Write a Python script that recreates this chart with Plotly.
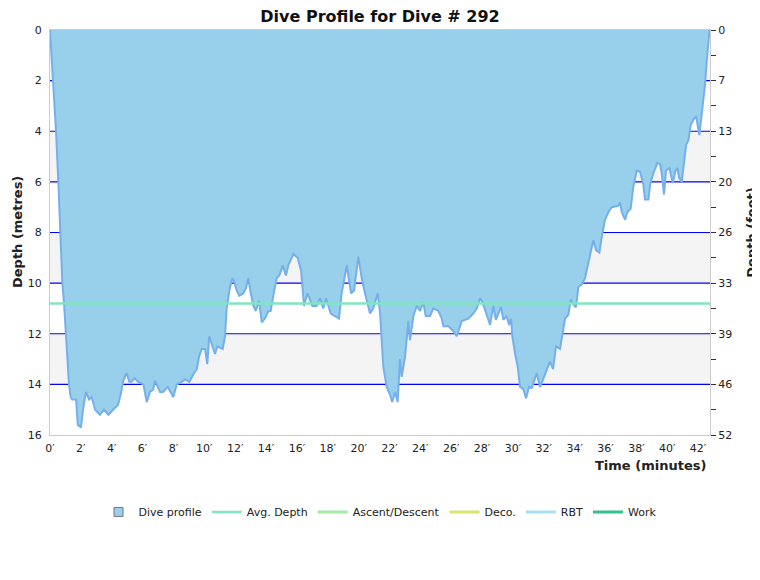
import plotly.graph_objects as go

# dive profile samples (minutes, metres)
time_min = [
    0.00, 0.21, 0.39, 0.54, 0.69, 0.80, 0.91, 1.04, 1.15, 1.23, 1.34, 1.43, 1.69, 1.80,
    2.01, 2.14, 2.33, 2.53, 2.70, 2.92, 3.24, 3.50, 3.78, 4.08, 4.41, 4.58, 4.75, 4.97,
    5.14, 5.29, 5.46, 5.72, 6.05, 6.27, 6.48, 6.69, 6.80, 7.13, 7.34, 7.63, 7.99, 8.21,
    8.54, 8.75, 9.03, 9.29, 9.51, 9.66, 9.83, 10.05, 10.19, 10.32, 10.52, 10.69, 10.84,
    11.19, 11.34, 11.45, 11.62, 11.81, 11.94, 12.10, 12.27, 12.53, 12.70, 12.85, 13.01,
    13.18, 13.33, 13.55, 13.72, 13.93, 14.15, 14.30, 14.47, 14.69, 14.86, 15.08, 15.29,
    15.44, 15.77, 16.05, 16.27, 16.46, 16.68, 17.00, 17.28, 17.50, 17.71, 17.89, 18.19,
    18.73, 18.90, 19.23, 19.51, 19.70, 19.98, 20.20, 20.41, 20.74, 20.95, 21.24, 21.39,
    21.60, 21.82, 22.03, 22.18, 22.36, 22.53, 22.68, 22.79, 23.01, 23.22, 23.33, 23.55,
    23.77, 23.98, 24.19, 24.35, 24.63, 24.84, 25.17, 25.39, 25.49, 25.81, 26.14, 26.36,
    26.68, 27.11, 27.43, 27.65, 27.87, 28.02, 28.30, 28.52, 28.73, 28.89, 29.23, 29.38,
    29.60, 29.75, 29.88, 29.96, 30.14, 30.31, 30.46, 30.68, 30.85, 31.04, 31.22, 31.54,
    31.76, 32.08, 32.40, 32.60, 32.79, 33.05, 33.27, 33.38, 33.59, 33.75, 33.92, 34.09,
    34.24, 34.46, 34.67, 34.89, 35.06, 35.21, 35.39, 35.60, 35.76, 35.97, 36.18, 36.40,
    36.83, 36.94, 37.05, 37.27, 37.41, 37.63, 37.80, 38.02, 38.24, 38.45, 38.56, 38.78,
    38.89, 39.10, 39.36, 39.53, 39.64, 39.79, 39.92, 40.14, 40.36, 40.51, 40.66, 40.78,
    40.94, 41.09, 41.22, 41.37, 41.52, 41.74, 41.87, 42.08, 42.23, 42.34, 42.45, 42.56,
    42.67, 42.74,
]
depth_m = [
    0.0, 2.0, 4.0, 6.0, 8.0, 10.0, 10.8, 12.0, 13.0, 14.0, 14.5, 14.6, 14.6, 15.6,
    15.7, 15.0, 14.3, 14.6, 14.5, 15.0, 15.2, 15.0, 15.2, 15.0, 14.8, 14.4, 13.85, 13.55,
    13.9, 13.9, 13.75, 13.9, 14.0, 14.7, 14.3, 14.2, 13.85, 14.3, 14.3, 14.1, 14.5, 14.0,
    13.9, 13.8, 13.9, 13.6, 13.4, 12.9, 12.6, 12.6, 13.2, 12.1, 12.5, 12.8, 12.5,
    12.6, 12.1, 11.0, 10.3, 9.8, 9.95, 10.3, 10.5, 10.4, 10.2, 9.8, 10.4,
    10.9, 11.1, 10.7, 11.55, 11.4, 11.1, 11.1, 10.5, 9.8, 9.7, 9.3, 9.7,
    9.3, 8.85, 9.0, 9.5, 10.9, 10.4, 10.9, 10.9, 10.6, 11.0, 10.6, 11.2,
    11.4, 10.4, 9.3, 10.4, 10.3, 8.95, 9.8, 10.4, 11.2, 11.0, 10.4, 11.2,
    13.3, 14.1, 14.4, 14.7, 14.3, 14.7, 13.0, 13.7, 12.9, 11.5, 12.25, 11.3,
    10.9, 11.1, 10.75, 11.3, 11.3, 11.0, 11.1, 11.4, 11.7, 11.7, 11.9, 12.1,
    11.5, 11.4, 11.2, 11.0, 10.6, 10.75, 11.25, 11.65, 10.9, 11.45, 10.95, 11.45,
    11.3, 11.65, 11.4, 12.1, 12.8, 13.3, 14.1, 14.2, 14.55, 14.1, 14.15, 13.55,
    14.1, 13.6, 13.1, 13.4, 12.5, 12.6, 11.85, 11.4, 11.25, 10.65, 10.85, 10.95,
    10.15, 10.05, 9.8, 9.2, 8.75, 8.3, 8.7, 8.8, 8.15, 7.5, 7.2, 7.0,
    6.95, 6.8, 7.2, 7.5, 7.2, 7.05, 6.2, 5.55, 5.6, 6.1, 6.7, 6.7,
    6.1, 5.65, 5.25, 5.3, 5.65, 6.5, 5.55, 5.45, 6.05, 5.6, 5.45, 5.85,
    6.0, 5.15, 4.55, 4.35, 3.75, 3.5, 3.4, 4.15, 3.4, 2.85, 2.15, 1.2,
    0.25, 0.0,
]
avg_depth_m = 10.8
dive_end_min = 42.77
max_depth_axis = 16

metre_ticks = list(range(0, max_depth_axis + 1, 2))
feet_labels = ["0", "7", "13", "20", "26", "33", "39", "46", "52"]
time_ticks = list(range(0, 43, 2))

empty_series = [("Ascent/Descent", "#a3eca3"), ("Deco.", "#d9e26c"),
                ("RBT", "#a8dff6"), ("Work", "#33bf8f")]

FONT = "DejaVu Sans, Verdana, sans-serif"

fig = go.Figure()

fig.add_trace(go.Scatter(
    x=time_min, y=depth_m, name="Dive profile", mode="lines",
    fill="tozeroy", fillcolor="#98cfea", showlegend=False,
    line=dict(color="#76b0ec", width=2),
))
# legend entry as a small square like the original
fig.add_trace(go.Scatter(
    x=[None], y=[None], name="Dive profile", mode="markers",
    marker=dict(symbol="square", size=9, color="#98cfea",
                line=dict(color="#777777", width=1)),
))
fig.add_trace(go.Scatter(
    x=[0, dive_end_min], y=[avg_depth_m, avg_depth_m], name="Avg. Depth",
    mode="lines", line=dict(color="#80e6c0", width=2.5),
))
for name, col in empty_series:
    fig.add_trace(go.Scatter(x=[None], y=[None], name=name, mode="lines",
                             line=dict(color=col, width=3)))

# invisible trace to carry the feet axis
fig.add_trace(go.Scatter(x=[None], y=[None], yaxis="y2", showlegend=False,
                         hoverinfo="skip"))

# alternating grey bands
for lo in metre_ticks[:-1:2]:
    fig.add_shape(type="rect", xref="paper", x0=0, x1=1, yref="y",
                  y0=lo, y1=lo + 2, fillcolor="#f4f4f4",
                  line=dict(width=0, color="rgba(0,0,0,0)"),
                  layer="below")
# blue grid lines, kept under the profile
for m in metre_ticks[1:-1]:
    fig.add_shape(type="line", xref="paper", x0=0, x1=1, yref="y",
                  y0=m, y1=m, line=dict(color="#0000ff", width=1.2),
                  layer="between")

fig.update_layout(
    width=760, height=580,
    margin=dict(l=42, r=58, t=22, b=153, autoexpand=False),
    paper_bgcolor="white", plot_bgcolor="white",
    font=dict(family=FONT, size=11, color="#222"),
    title=dict(text="<b>Dive Profile for Dive # 292</b>", x=0.5, xref="paper",
               xanchor="center", y=0.995, yref="container", yanchor="top",
               pad=dict(t=0), font=dict(size=16, color="#111")),
    showlegend=True,
    legend=dict(orientation="h", x=0.5, xanchor="center", y=-0.19,
                yanchor="middle", font=dict(size=11), itemwidth=30),
    xaxis=dict(range=[0, dive_end_min], tickvals=time_ticks,
               ticktext=[f"{t}′" for t in time_ticks], ticklabelstandoff=3,
               showgrid=False, zeroline=False, showline=True,
               linecolor="#cccccc", ticks="", mirror=True, automargin=False),
    yaxis=dict(range=[max_depth_axis, 0], tickvals=metre_ticks,
               ticklabelstandoff=5, showgrid=False, zeroline=False,
               showline=True, linecolor="#cccccc", ticks="", automargin=False),
    yaxis2=dict(overlaying="y", side="right", range=[max_depth_axis, 0],
                tickvals=list(range(0, max_depth_axis + 1)),
                ticktext=[feet_labels[i // 2] if i % 2 == 0 else ""
                          for i in range(max_depth_axis + 1)],
                ticks="outside", ticklen=5, tickcolor="#333",
                showgrid=False, zeroline=False, showline=True,
                linecolor="#cccccc", automargin=False),
    annotations=[
        dict(text="<b>Time (minutes)</b>", xref="paper", yref="paper",
             x=0.997, y=-0.0765, xanchor="right", yanchor="middle",
             showarrow=False, font=dict(size=13)),
        dict(text="<b>Depth (metres)</b>", xref="paper", yref="paper",
             x=-0.0636, y=0.5, xanchor="left", yanchor="middle",
             textangle=-90, showarrow=False, font=dict(size=13)),
        dict(text="<b>Depth (feet)</b>", xref="paper", yref="paper",
             x=1.048, y=0.5, xanchor="left", yanchor="middle",
             textangle=-90, showarrow=False, font=dict(size=13)),
    ],
)

fig.write_html("out.html")
